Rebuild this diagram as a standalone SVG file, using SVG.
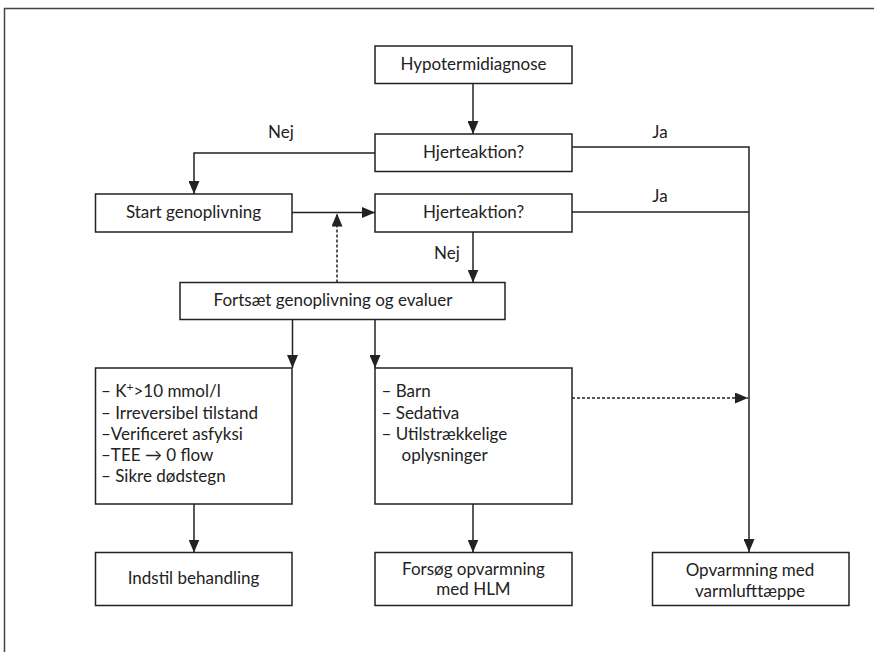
<svg xmlns="http://www.w3.org/2000/svg" width="874" height="652" viewBox="0 0 874 652">
<defs>
<style>
.box{fill:#fff;stroke:#222;stroke-width:1.5}
.ln{fill:none;stroke:#222;stroke-width:1.5}
.dot{fill:none;stroke:#222;stroke-width:1.5;stroke-dasharray:3 2}
text{font-family:Lato,"Open Sans","DejaVu Sans",sans-serif;font-size:17px;fill:#222}
.c{text-anchor:middle}
</style>
<marker id="ah" viewBox="0 0 13 11" refX="13" refY="5.5" markerWidth="13" markerHeight="11" markerUnits="userSpaceOnUse" orient="auto">
<path d="M0,0 L13,5.5 L0,11 Z" fill="#222"/>
</marker>
</defs>
<rect width="874" height="652" fill="#fff"/>
<path d="M4.5,652 V8.5 H874" fill="none" stroke="#444" stroke-width="1.5"/>
<g id="connectors">
<path class="ln" d="M473,83.5 V134" marker-end="url(#ah)"/>
<path class="ln" d="M375,153 H194 V194" marker-end="url(#ah)"/>
<path class="ln" d="M292,212.5 H375" marker-end="url(#ah)"/>
<path class="ln" d="M572,147 H749 V552" marker-end="url(#ah)"/>
<path class="ln" d="M572,212 H749"/>
<path class="ln" d="M473,232 V282.5" marker-end="url(#ah)"/>
<path class="dot" d="M337,282.5 V213.5" marker-end="url(#ah)"/>
<path class="ln" d="M292.5,319.5 V368" marker-end="url(#ah)"/>
<path class="ln" d="M375,319.5 V368" marker-end="url(#ah)"/>
<path class="ln" d="M194,504 V552.5" marker-end="url(#ah)"/>
<path class="ln" d="M473,504 V552.5" marker-end="url(#ah)"/>
<path class="dot" d="M572,398 H748" marker-end="url(#ah)"/>
<text class="c" x="281" y="138">Nej</text>
<text class="c" x="660" y="138">Ja</text>
<text class="c" x="660" y="202">Ja</text>
<text class="c" x="447" y="259">Nej</text>
</g>
<g id="n-hypo"><rect class="box" x="375" y="46" width="197" height="37.5"/><text class="c" x="473.5" y="70">Hypotermidiagnose</text></g>
<g id="n-hjert1"><rect class="box" x="375" y="134" width="197" height="37.5"/><text class="c" x="473.5" y="158">Hjerteaktion?</text></g>
<g id="n-start"><rect class="box" x="95.5" y="194" width="196.5" height="38"/><text class="c" x="193.5" y="218">Start genoplivning</text></g>
<g id="n-hjert2"><rect class="box" x="375" y="194" width="197" height="38"/><text class="c" x="473.5" y="218">Hjerteaktion?</text></g>
<g id="n-fortsaet"><rect class="box" x="180" y="282.5" width="325" height="37"/><text class="c" x="333" y="306">Fortsæt genoplivning og evaluer</text></g>
<g id="n-stop"><rect class="box" x="95.5" y="368" width="196.5" height="136"/>
<text x="101" y="397">– K<tspan font-size="12" dy="-6">+</tspan><tspan dy="6">&gt;10 mmol/l</tspan></text>
<text x="101" y="418.5">– Irreversibel tilstand</text>
<text x="101" y="440">–Verificeret asfyksi</text>
<text x="101" y="461">–TEE → 0 flow</text>
<text x="101" y="482">– Sikre dødstegn</text>
</g>
<g id="n-maybe"><rect class="box" x="375" y="368" width="197" height="136"/>
<text x="381.5" y="397">– Barn</text>
<text x="381.5" y="418.5">– Sedativa</text>
<text x="381.5" y="440">– Utilstrækkelige</text>
<text x="401.5" y="461">oplysninger</text>
</g>
<g id="n-indstil"><rect class="box" x="95.5" y="552.5" width="196.5" height="53"/><text class="c" x="193.5" y="584">Indstil behandling</text></g>
<g id="n-hlm"><rect class="box" x="375" y="552.5" width="197" height="53"/><text class="c" x="473.5" y="575">Forsøg opvarmning</text><text class="c" x="473.5" y="595">med HLM</text></g>
<g id="n-varm"><rect class="box" x="652.5" y="552.5" width="196.5" height="53"/><text class="c" x="750" y="576">Opvarmning med</text><text class="c" x="750" y="597">varmlufttæppe</text></g>
</svg>
